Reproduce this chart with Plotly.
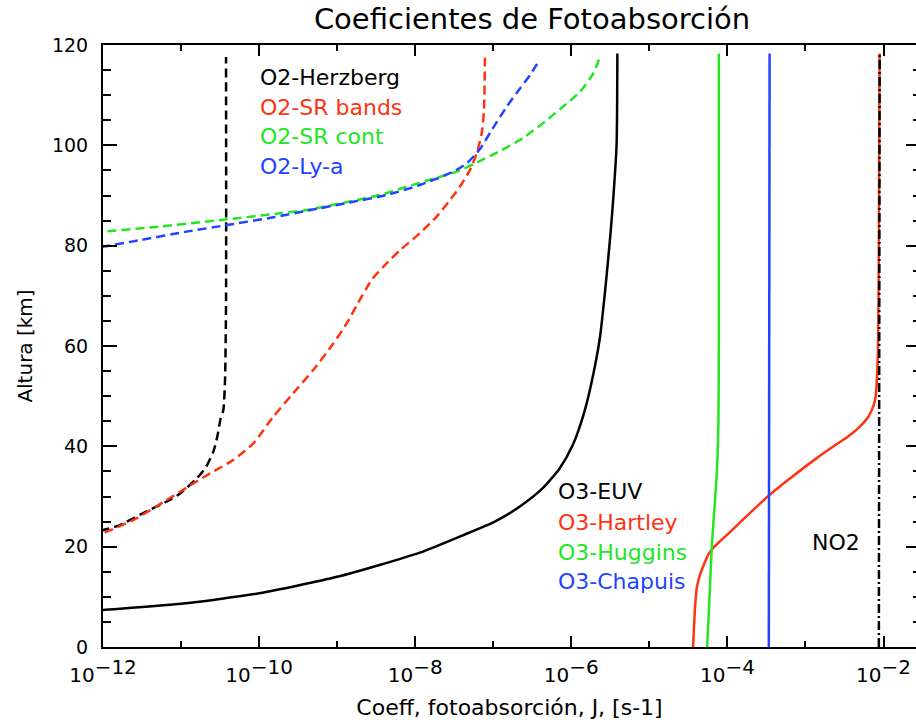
import plotly.graph_objects as go

# ---------------- data (altitude km, J in s-1) ----------------
herz_z = [22.3, 23.3, 24.3, 26.7, 29.0, 30.6, 33.6, 35.9, 38.9, 41.9, 45.6, 47.2, 53.2, 69.2, 117.6]
herz_J = [6.3e-13, 1.0e-12, 1.65e-12, 3.28e-12, 6.55e-12, 9.70e-12, 1.589e-11, 2.09e-11, 2.59e-11,
          2.91e-11, 3.22e-11, 3.48e-11, 3.66e-11, 3.77e-11, 3.77e-11]

srb_z = [22.0, 22.7, 25.3, 29.3, 32.6, 34.6, 37.3, 40.6, 45.9, 50.6, 55.2, 60.5, 64.5, 68.2, 73.2,
         75.8, 79.1, 82.5, 85.8, 89.1, 91.8, 95.1, 98.4, 102.4, 107.0, 118.4]
srb_J = [7.1e-13, 1.0e-12, 2.44e-12, 6.55e-12, 1.435e-11, 2.35e-11, 4.67e-11, 8.43e-11, 1.52e-10,
         2.74e-10, 4.94e-10, 8.93e-10, 1.324e-09, 1.795e-09, 2.77e-09, 3.90e-09, 6.38e-09, 1.15e-08,
         1.88e-08, 2.79e-08, 3.75e-08, 5.04e-08, 6.14e-08, 7.11e-08, 7.60e-08, 7.83e-08]

src_z = [82.4, 82.8, 83.8, 85.25, 86.45, 87.1, 89.1, 90.1, 91.75, 93.75, 94.75, 96.4, 99.05,
         101.45, 105.0, 107.5, 110.7, 114.35, 117.65]
src_J = [5.0e-13, 1.0e-12, 5.37e-12, 3.85e-11, 1.854e-10, 4.07e-10, 1.778e-09, 3.54e-09, 7.78e-09,
         2.08e-08, 3.40e-08, 5.83e-08, 1.282e-07, 2.40e-07, 4.84e-07, 7.53e-07, 1.294e-06, 1.914e-06,
         2.333e-06]

lya_z = [79.3, 79.8, 81.1, 82.8, 84.1, 85.65, 86.95, 88.75, 90.1, 92.1, 94.75, 96.4, 99.25, 103.05,
         107.7, 111.35, 114.0, 116.65]
lya_J = [6.3e-13, 1.0e-12, 2.98e-12, 1.18e-11, 3.85e-11, 1.521e-10, 4.07e-10, 1.611e-09, 4.32e-09,
         1.151e-08, 3.08e-08, 4.57e-08, 6.75e-08, 9.55e-08, 1.486e-07, 2.20e-07, 2.96e-07, 3.78e-07]

euv_z = [6.8, 7.4, 8.6, 10.7, 14.0, 18.8, 22.2, 25.0, 28.0, 31.6, 35.6, 40.3, 47.0, 55.0, 62.0,
         72.0, 82.0, 90.0, 100.0, 118.3]
euv_J = [3.2e-13, 1.0e-12, 1.0e-11, 1.0e-10, 1.0e-09, 1.148e-08, 3.98e-08, 1.047e-07, 2.19e-07,
         4.27e-07, 7.08e-07, 1.047e-06, 1.479e-06, 1.95e-06, 2.34e-06, 2.75e-06, 3.16e-06, 3.47e-06,
         3.80e-06, 3.89e-06]

hart_z = [0.0, 8.0, 12.0, 14.5, 16.5, 18.5, 19.8, 21.0, 23.0, 26.9, 30.2, 33.6, 37.6, 40.0, 42.0,
          44.0, 46.0, 48.0, 50.0, 55.0, 60.0, 80.0, 118.3]
hart_J = [3.63e-05, 3.85e-05, 4.07e-05, 4.47e-05, 5.01e-05, 5.75e-05, 6.61e-05, 7.94e-05, 1.096e-04,
          2.00e-04, 3.39e-04, 6.31e-04, 1.38e-03, 2.29e-03, 3.55e-03, 5.01e-03, 6.46e-03, 7.41e-03,
          7.94e-03, 8.32e-03, 8.51e-03, 8.71e-03, 8.91e-03]

hug_z = [0.0, 20.0, 35.0, 45.0, 60.0, 118.3]
hug_J = [5.50e-05, 6.31e-05, 7.33e-05, 7.67e-05, 7.76e-05, 7.76e-05]

chap_z = [0.0, 118.3]
chap_J = [3.39e-04, 3.47e-04]

no2_z = [0.0, 118.3]
no2_J = [8.71e-03, 8.91e-03]

x_tickvals = [1e-12, 1e-10, 1e-8, 1e-6, 1e-4, 1e-2]
x_exps = ["−12", "−10", "−8", "−6", "−4", "−2"]
x_minor = [1e-11, 1e-9, 1e-7, 1e-5, 1e-3]
y_tickvals = [0, 20, 40, 60, 80, 100, 120]

RED = "#ff3311"
GREEN = "#22e622"
BLUE = "#2244ff"
BLACK = "#000000"
FONT = "DejaVu Sans"

DASH = "9px,5px"
series = [
    ("O2-Herzberg", herz_J, herz_z, BLACK, DASH, "spline"),
    ("O2-SR bands", srb_J, srb_z, RED, DASH, "spline"),
    ("O2-SR cont", src_J, src_z, GREEN, DASH, "spline"),
    ("O2-Ly-a", lya_J, lya_z, BLUE, DASH, "spline"),
    ("O3-EUV", euv_J, euv_z, BLACK, "solid", "spline"),
    ("O3-Hartley", hart_J, hart_z, RED, "solid", "spline"),
    ("O3-Huggins", hug_J, hug_z, GREEN, "solid", "spline"),
    ("O3-Chapuis", chap_J, chap_z, BLUE, "solid", "linear"),
    ("NO2", no2_J, no2_z, BLACK, "9px,3px,2px,3px", "linear"),
]

fig = go.Figure()
for name, xs, ys, col, dash, shape in series:
    line = dict(color=col, width=2.5, dash=dash, shape=shape)
    if shape == "spline":
        line["smoothing"] = 0.6
    fig.add_trace(go.Scatter(x=xs, y=ys, mode="lines", name=name, line=line,
                             showlegend=False))

# right-hand ticks (spine lies just outside the picture)
fig.add_trace(go.Scatter(x=[], y=[], yaxis="y2", showlegend=False))

labels_o2 = [("O2-Herzberg", BLACK, 113.6), ("O2-SR bands", RED, 107.6),
             ("O2-SR cont", GREEN, 101.7), ("O2-Ly-a", BLUE, 95.7)]
labels_o3 = [("O3-EUV", BLACK, 30.9), ("O3-Hartley", RED, 24.9),
             ("O3-Huggins", GREEN, 18.9), ("O3-Chapuis", BLUE, 13.0)]
for txt, col, yy in labels_o2:
    fig.add_annotation(x=-10.01, y=yy, xref="x", yref="y", text=txt, showarrow=False,
                       xanchor="left", yanchor="middle", font=dict(family=FONT, size=22, color=col))
for txt, col, yy in labels_o3:
    fig.add_annotation(x=-6.2, y=yy, xref="x", yref="y", text=txt, showarrow=False,
                       xanchor="left", yanchor="middle", font=dict(family=FONT, size=22, color=col))
fig.add_annotation(x=-2.615, y=20.9, xref="x", yref="y", text="NO2", showarrow=False,
                   xanchor="center", yanchor="middle", font=dict(family=FONT, size=22, color=BLACK))

x_ticktext = ["10<sup><span style='font-size:20px'>%s</span></sup>" % e for e in x_exps]

fig.update_layout(
    width=916, height=722,
    margin=dict(l=103, r=0, t=45, b=75),
    paper_bgcolor="white", plot_bgcolor="white",
    font=dict(family=FONT, size=19, color="black"),
    title=dict(text="Coeficientes de Fotoabsorción", x=0.5277, xref="paper",
               y=1 - 19 / 722, yref="container", xanchor="center", yanchor="middle",
               font=dict(family=FONT, size=29, color="black")),
    xaxis=dict(type="log", range=[-12, -1.584], showgrid=False, zeroline=False,
               showline=True, linecolor="black", linewidth=2, mirror="ticks",
               ticks="inside", ticklen=11, tickwidth=2, tickcolor="black",
               tickmode="array", tickvals=x_tickvals, ticktext=x_ticktext,
               tickfont=dict(family=FONT, size=20), ticklabelstandoff=9,
               minor=dict(tickmode="array", tickvals=x_minor, ticks="inside",
                          ticklen=6, tickwidth=2, tickcolor="black"),
               title=dict(text="Coeff, fotoabsorción, J, [s-1]",
                          font=dict(family=FONT, size=22), standoff=14)),
    yaxis=dict(range=[0, 120], showgrid=False, zeroline=False,
               showline=True, linecolor="black", linewidth=2, mirror=False,
               ticks="inside", ticklen=14, tickwidth=2, tickcolor="black",
               tickmode="array", tickvals=y_tickvals,
               tickfont=dict(family=FONT, size=19), ticklabelstandoff=9,
               minor=dict(dtick=5, ticks="inside", ticklen=8, tickwidth=2, tickcolor="black"),
               title=dict(text="Altura [km]", font=dict(family=FONT, size=20), standoff=14)),
    yaxis2=dict(range=[0, 120], overlaying="y", side="right", anchor="x",
                showgrid=False, zeroline=False, showline=False,
                ticks="inside", ticklen=10, tickwidth=2, tickcolor="black",
                tickmode="array", tickvals=y_tickvals, showticklabels=False,
                minor=dict(dtick=5, ticks="inside", ticklen=3, tickwidth=2, tickcolor="black")),
)

fig.write_html("out.html")
